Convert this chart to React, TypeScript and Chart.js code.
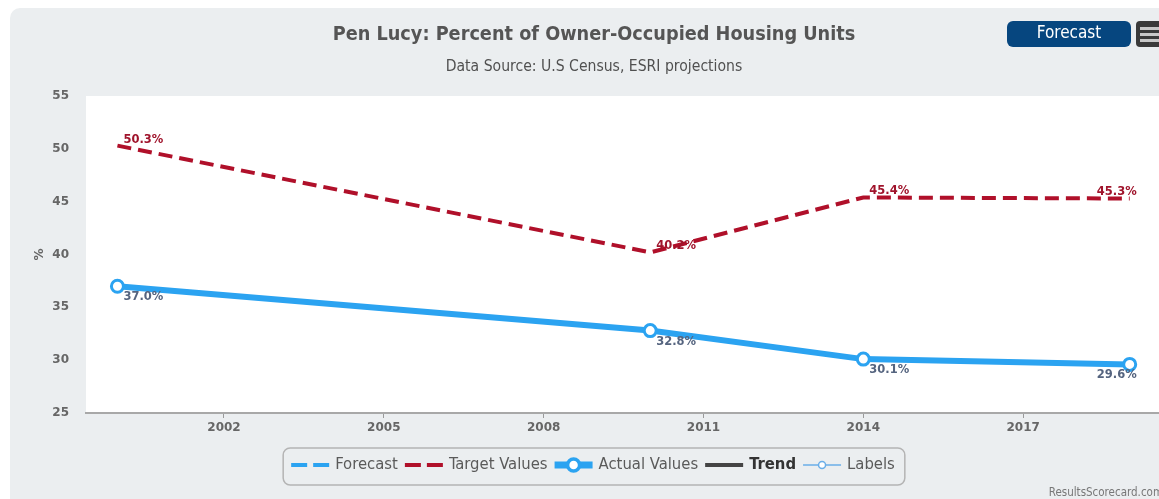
import React, { useEffect, useRef } from "react";
import { Chart, registerables } from "chart.js";

Chart.register(...registerables);

// ---- data ----
const years = [2000, 2010, 2014, 2019];
const targetValues = [50.3, 40.2, 45.4, 45.3];
const actualValues = [37.0, 32.8, 30.1, 29.6];
const xTickValues = [2002, 2005, 2008, 2011, 2014, 2017];
const yTickValues = [25, 30, 35, 40, 45, 50, 55];
const legendNames = ["Forecast", "Target Values", "Actual Values", "Trend", "Labels"];
const titleText = "Pen Lucy: Percent of Owner-Occupied Housing Units";
const subtitleText = "Data Source: U.S Census, ESRI projections";
const buttonText = "Forecast";
const creditText = "ResultsScorecard.com";

const W = 1159;
const H = 499;
const NARROW = "'Liberation Sans Narrow', 'DejaVu Sans Condensed', 'Arial Narrow', 'Liberation Sans', sans-serif";
const WIDE = "'DejaVu Sans', Verdana, sans-serif";
const RED = "#b0102a";
const BLUE = "#2ba3f1";
const PANEL = "#ebeef0";

const bgPlugin = {
  id: "panelBg",
  beforeDraw(chart: any) {
    const { ctx, chartArea } = chart;
    ctx.save();
    ctx.fillStyle = "#ffffff";
    ctx.fillRect(0, 0, W, H);
    ctx.fillStyle = PANEL;
    ctx.beginPath();
    ctx.roundRect(10, 8, W + 30, H + 30, 10);
    ctx.fill();
    ctx.fillStyle = "#ffffff";
    ctx.fillRect(chartArea.left, chartArea.top, W - chartArea.left, chartArea.bottom - chartArea.top);
    ctx.restore();
  },
};

const headerPlugin = {
  id: "header",
  afterDraw(chart: any) {
    const { ctx } = chart;
    ctx.save();
    ctx.textAlign = "center";
    ctx.textBaseline = "middle";
    ctx.fillStyle = "#555555";
    ctx.font = `bold 19.7px ${NARROW}`;
    ctx.fillText(titleText, 594, 35);
    ctx.font = `15.6px ${NARROW}`;
    ctx.fillStyle = "#505050";
    ctx.fillText(subtitleText, 594, 67);

    // Forecast button
    ctx.fillStyle = "#06467f";
    ctx.beginPath();
    ctx.roundRect(1007, 21, 124, 26, 6);
    ctx.fill();
    ctx.fillStyle = "#ffffff";
    ctx.font = `17px ${NARROW}`;
    ctx.fillText(buttonText, 1069, 34);

    // menu icon
    ctx.fillStyle = "#3a3a3a";
    ctx.beginPath();
    ctx.roundRect(1136, 21, 30, 26, 4);
    ctx.fill();
    ctx.fillStyle = "#c8c8c8";
    [27, 33, 39].forEach((y) => ctx.fillRect(1140, y, 22, 3));

    // credit
    ctx.textAlign = "right";
    ctx.fillStyle = "#777777";
    ctx.font = `11.5px ${NARROW}`;
    ctx.fillText(creditText, 1163, 493);
    ctx.restore();
  },
};

const dataLabelPlugin = {
  id: "dataLabels",
  afterDatasetsDraw(chart: any) {
    const { ctx } = chart;
    ctx.save();
    ctx.font = `bold 11.5px ${WIDE}`;
    ctx.textBaseline = "middle";
    chart.data.datasets.forEach((ds: any, di: number) => {
      if (!ds.showLabels) return;
      const meta = chart.getDatasetMeta(di);
      meta.data.forEach((pt: any, i: number) => {
        const last = i === meta.data.length - 1;
        const v = ds.data[i].y;
        const txt = v.toFixed(1) + "%";
        ctx.fillStyle = ds.labelColor;
        ctx.textAlign = last ? "right" : "left";
        const x = last ? pt.x + 7 : pt.x + 6;
        const y = pt.y + ds.labelDy;
        ctx.fillText(txt, x, y);
      });
    });
    ctx.restore();
  },
};

function drawSymbol(ctx: CanvasRenderingContext2D, kind: number, x: number, y: number, w: number) {
  ctx.save();
  if (kind === 0 || kind === 1) {
    ctx.strokeStyle = kind === 0 ? BLUE : RED;
    ctx.lineWidth = 4;
    ctx.setLineDash([16, 6]);
    ctx.beginPath();
    ctx.moveTo(x, y);
    ctx.lineTo(x + w, y);
    ctx.stroke();
  } else if (kind === 2) {
    ctx.strokeStyle = BLUE;
    ctx.lineWidth = 7;
    ctx.beginPath();
    ctx.moveTo(x, y);
    ctx.lineTo(x + w, y);
    ctx.stroke();
    ctx.fillStyle = "#fff";
    ctx.lineWidth = 3.5;
    ctx.beginPath();
    ctx.arc(x + w / 2, y, 6, 0, Math.PI * 2);
    ctx.fill();
    ctx.stroke();
  } else if (kind === 3) {
    ctx.strokeStyle = "#444444";
    ctx.lineWidth = 4;
    ctx.beginPath();
    ctx.moveTo(x, y);
    ctx.lineTo(x + w, y);
    ctx.stroke();
  } else {
    ctx.strokeStyle = "#6aaee8";
    ctx.lineWidth = 1.5;
    ctx.beginPath();
    ctx.moveTo(x, y);
    ctx.lineTo(x + w, y);
    ctx.stroke();
    ctx.fillStyle = "#fff";
    ctx.beginPath();
    ctx.arc(x + w / 2, y, 3.5, 0, Math.PI * 2);
    ctx.fill();
    ctx.stroke();
  }
  ctx.restore();
}

const legendPlugin = {
  id: "customLegend",
  afterDraw(chart: any) {
    const { ctx } = chart;
    ctx.save();
    const normalFont = `16.5px ${NARROW}`;
    const boldFont = `bold 16.5px ${NARROW}`;
    const symW = 38;
    const gapSym = 6;
    const gapItem = 7;
    const widths = legendNames.map((n, i) => {
      ctx.font = i === 3 ? boldFont : normalFont;
      return ctx.measureText(n).width;
    });
    const total = widths.reduce((a, b) => a + b, 0) + legendNames.length * (symW + gapSym) + (legendNames.length - 1) * gapItem;
    const cx = 593;
    const cy = 465;
    let x = cx - total / 2;
    ctx.strokeStyle = "#b4b4b4";
    ctx.lineWidth = 1.5;
    ctx.beginPath();
    ctx.roundRect(x - 8, 448, total + 18, 37, 7);
    ctx.stroke();
    ctx.textBaseline = "middle";
    ctx.textAlign = "left";
    legendNames.forEach((n, i) => {
      drawSymbol(ctx, i, x, cy, symW);
      x += symW + gapSym;
      ctx.font = i === 3 ? boldFont : normalFont;
      ctx.fillStyle = i === 3 ? "#333333" : "#5a5a5a";
      ctx.fillText(n, x, cy);
      x += widths[i] + gapItem;
    });
    ctx.restore();
  },
};

export default function App() {
  const ref = useRef<HTMLCanvasElement | null>(null);
  useEffect(() => {
    if (!ref.current) return;
    const chart = new Chart(ref.current, {
      type: "line",
      data: {
        datasets: [
          {
            label: legendNames[1],
            data: years.map((y, i) => ({ x: y, y: targetValues[i] })),
            borderColor: RED,
            borderWidth: 4,
            borderDash: [14, 7],
            pointRadius: 0,
            fill: false,
            tension: 0,
            showLabels: true,
            labelColor: "#a0142c",
            labelDy: -6,
          } as any,
          {
            label: legendNames[2],
            data: years.map((y, i) => ({ x: y, y: actualValues[i] })),
            borderColor: BLUE,
            borderWidth: 6,
            pointRadius: 6,
            pointBorderWidth: 3,
            pointBackgroundColor: "#ffffff",
            pointBorderColor: BLUE,
            fill: false,
            tension: 0,
            showLabels: true,
            labelColor: "#55647f",
            labelDy: 11,
          } as any,
        ],
      },
      options: {
        animation: false,
        responsive: false,
        maintainAspectRatio: false,
        layout: { autoPadding: false, padding: { top: 96, left: 0, right: 0, bottom: 0 } },
        plugins: {
          legend: { display: false },
          title: { display: false },
          tooltip: { enabled: false },
        },
        scales: {
          x: {
            type: "linear",
            min: 1999.41,
            max: 2019.55,
            afterBuildTicks: (s: any) => {
              s.ticks = xTickValues.map((v) => ({ value: v }));
            },
            afterFit: (s: any) => {
              s.height = 86;
              s.paddingRight = 0;
              s.paddingLeft = 0;
            },
            ticks: {
              color: "#666666",
              font: { family: WIDE, size: 12, weight: "bold" },
              padding: 3,
              callback: (v: any) => String(v),
            },
            grid: { drawOnChartArea: false, tickLength: 5, color: "#9a9a9a" },
            border: { color: "#a8a8a8", width: 2 },
          },
          y: {
            min: 25,
            max: 55,
            afterBuildTicks: (s: any) => {
              s.ticks = yTickValues.map((v) => ({ value: v }));
            },
            afterFit: (s: any) => {
              s.width = 86;
              s.paddingTop = 0;
              s.paddingBottom = 0;
            },
            ticks: {
              color: "#666666",
              font: { family: WIDE, size: 12, weight: "bold" },
              padding: 9,
            },
            grid: { display: false },
            border: { display: false },
            title: {
              display: true,
              text: "%",
              color: "#666666",
              font: { family: WIDE, size: 12, weight: "bold" },
              padding: { top: 33, bottom: 0 },
            },
          },
        },
      },
      plugins: [bgPlugin, dataLabelPlugin, headerPlugin, legendPlugin],
    });
    return () => chart.destroy();
  }, []);

  return (
    <div style={{ position: "absolute", left: 0, top: 0, width: W, height: H }}>
      <canvas ref={ref} width={W} height={H} style={{ display: "block", width: W, height: H }} />
    </div>
  );
}
